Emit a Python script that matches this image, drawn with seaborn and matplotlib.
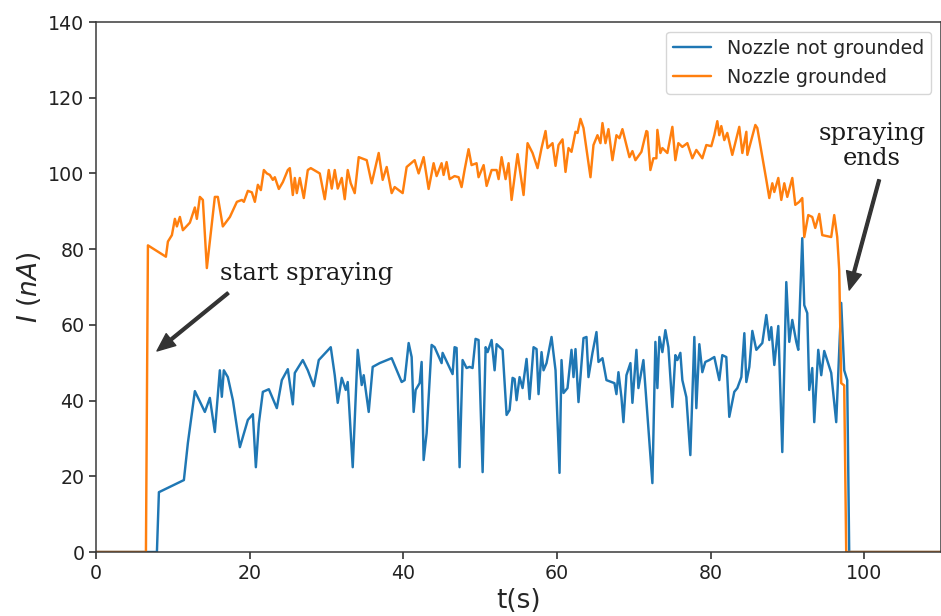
import numpy as np
import pandas as pd
import matplotlib
matplotlib.use('Agg')
import matplotlib.pyplot as plt
import seaborn as sns

# readings: time (s) and current (nA)
t_grounded = [0.0, 6.50, 6.76, 9.10, 9.36, 9.88, 10.27, 10.53, 10.92, 11.31, 12.22, 12.87, 13.13,
              13.52, 13.91, 14.43, 15.47, 15.86, 16.51, 17.43, 18.34, 18.99, 19.25, 19.77, 20.29,
              20.68, 21.07, 21.46, 21.85, 22.24, 22.63, 23.02, 23.28, 23.80, 24.32, 24.97, 25.23,
              25.62, 25.88, 26.14, 26.53, 27.05, 27.57, 27.96, 29.13, 29.78, 30.30, 30.69, 31.08,
              31.47, 31.99, 32.38, 32.77, 33.16, 33.68, 34.20, 35.24, 35.89, 36.80, 37.32, 37.84,
              38.49, 38.88, 39.92, 40.44, 41.48, 42.00, 42.65, 43.30, 43.95, 44.34, 44.99, 45.25,
              45.64, 46.03, 46.68, 47.20, 47.59, 47.98, 48.50, 48.89, 49.54, 49.80, 50.46, 50.85,
              51.50, 52.15, 52.41, 52.80, 53.32, 53.71, 54.10, 54.88, 55.66, 56.18, 56.83, 57.48,
              58.00, 58.52, 58.78, 59.43, 59.82, 60.21, 60.73, 61.12, 61.51, 61.90, 62.42, 62.68,
              63.07, 63.46, 64.37, 64.76, 65.28, 65.67, 65.93, 66.32, 66.71, 67.23, 67.75, 68.14,
              68.53, 69.05, 69.44, 69.83, 70.22, 71.00, 71.65, 71.78, 72.17, 72.56, 72.95, 73.08,
              73.47, 73.73, 74.38, 75.03, 75.42, 75.81, 76.33, 76.98, 77.63, 78.15, 78.93, 79.45,
              80.10, 80.49, 80.88, 81.14, 81.40, 81.79, 82.18, 82.83, 83.74, 84.14, 84.66, 84.79,
              85.83, 86.09, 87.26, 87.65, 88.04, 88.30, 88.82, 89.21, 89.60, 89.99, 90.64, 91.03,
              91.55, 91.94, 92.20, 92.72, 93.24, 93.63, 94.15, 94.54, 95.71, 96.10, 96.49, 96.75,
              97.01, 97.40, 97.66, 110.0]
i_grounded = [0, 0, 81, 78, 82, 83.7, 88, 86, 88.5, 85, 87, 91, 88,
              93.8, 93, 75, 93.8, 93.8, 86, 88.5, 92.5, 93, 92.5, 95.4, 95,
              92.5, 97, 95.6, 100.9, 100, 99.6, 98.3, 99, 95.9, 97.7, 100.9, 101.4,
              94.3, 98.8, 94.8, 98.8, 93.5, 100.9, 101.4, 100, 93.2, 100.9, 96, 100.9,
              96, 98.8, 93.2, 100.9, 97.4, 94.8, 104.3, 103.5, 97.4, 105.4, 98.3, 101.7,
              94.8, 96.4, 94.8, 101.7, 103.5, 100, 104.3, 95.9, 102.7, 99.3, 102.7, 99.6,
              103, 98.5, 99.3, 99, 96.4, 100.9, 106.4, 102.2, 102.7, 99, 102.2, 96.7,
              100.9, 100.9, 98.5, 104.3, 98.5, 102.7, 93, 105.1, 94.3, 108, 105.4, 101.4,
              106.7, 111.2, 106.7, 108, 102, 107.5, 109, 100.4, 106.7, 105.7, 111, 110.7,
              114.4, 112, 99, 107.5, 110.1, 108, 113.3, 108, 111.7, 103.5, 110.1, 109.3,
              111.7, 107.5, 104.3, 105.9, 103.5, 105.7, 111.2, 111, 100.9, 104, 104, 111.5,
              105.4, 106.7, 105.4, 112.3, 103.5, 108, 107, 108, 104, 106.2, 104, 107.5,
              107.2, 110.1, 113.8, 110.1, 112.5, 108.8, 110.7, 104.9, 112.3, 105.4, 111, 104.9,
              112.8, 112, 98.3, 93.5, 97.4, 95.1, 98.8, 93, 97.4, 93.8, 98.8, 91.7,
              92.5, 93.5, 83.2, 89, 88.5, 85.6, 89.3, 83.7, 83.2, 89, 83.2, 74.5,
              44.6, 44, 0, 0]

t_not_grounded = [0.0, 7.93, 8.19, 11.44, 11.96, 12.87, 14.17, 14.82, 15.47, 16.12, 16.38, 16.64,
                  17.16, 17.82, 18.73, 19.77, 20.42, 20.81, 21.20, 21.72, 22.50, 23.54, 24.19,
                  24.97, 25.62, 25.88, 26.92, 27.57, 28.35, 29.00, 30.56, 31.08, 31.47, 31.99,
                  32.51, 32.77, 33.42, 34.07, 34.59, 34.85, 35.50, 36.02, 36.93, 38.49, 39.79,
                  40.18, 40.70, 41.09, 41.35, 41.61, 42.13, 42.39, 42.65, 43.04, 43.69, 44.08,
                  44.99, 45.12, 46.42, 46.68, 46.94, 47.33, 47.72, 48.24, 48.63, 49.02, 49.41,
                  49.80, 50.33, 50.72, 50.98, 51.50, 51.89, 52.15, 52.93, 53.45, 53.84, 54.23,
                  54.49, 54.75, 55.14, 55.53, 56.05, 56.44, 56.96, 57.35, 57.61, 58.00, 58.26,
                  58.65, 59.30, 59.82, 60.34, 60.60, 60.86, 61.38, 61.90, 62.16, 62.42, 62.81,
                  63.46, 63.85, 64.11, 64.63, 65.15, 65.41, 65.93, 66.45, 67.10, 67.49, 67.75,
                  68.01, 68.40, 68.66, 69.05, 69.57, 69.83, 70.35, 70.61, 71.26, 72.43, 72.82,
                  73.08, 73.34, 73.73, 74.12, 74.51, 75.03, 75.42, 75.68, 76.07, 76.33, 76.85,
                  77.37, 77.89, 78.15, 78.54, 78.93, 79.32, 79.84, 80.49, 81.14, 81.53, 82.05,
                  82.44, 83.09, 83.49, 84.01, 84.40, 84.66, 85.05, 85.44, 85.96, 86.74, 87.26,
                  87.65, 87.91, 88.30, 88.82, 89.34, 89.86, 90.25, 90.64, 91.16, 91.42, 91.94,
                  92.20, 92.59, 92.85, 93.24, 93.50, 94.02, 94.41, 94.80, 95.71, 95.84, 96.36,
                  97.01, 97.40, 97.79, 98.05, 110.0]
i_not_grounded = [0, 0, 15.8, 19, 28.8, 42.5, 37, 40.7, 31.7, 48, 41, 48,
                  46.2, 40.1, 27.7, 34.9, 36.4, 22.4, 34, 42.3, 43, 38, 45.4,
                  48.3, 39, 47.3, 50.7, 48, 43.8, 50.7, 54.1, 46.7, 39.4, 46,
                  42.8, 44.9, 22.4, 53.4, 44.1, 46.7, 37, 48.9, 49.9, 51.2, 44.9,
                  45.4, 55.2, 51.5, 37, 42.8, 44.6, 50.2, 24.3, 31.4, 54.7, 54.1,
                  49.9, 52.6, 47, 54.1, 53.9, 22.4, 50.7, 48.6, 48.9, 48.6, 56.3,
                  56, 21.1, 54.1, 52.8, 56, 48, 54.9, 53.4, 36.2, 37.5, 46,
                  45.7, 40.1, 46.2, 43.3, 51, 40.4, 54.1, 53.6, 41.7, 52.8, 48,
                  49.9, 56.8, 48, 20.9, 50.7, 42, 43.3, 53.4, 46.2, 53.6, 39.6,
                  56.5, 56.8, 46.2, 52.6, 58.1, 50.2, 51.2, 45.4, 44.9, 44.6, 41.7,
                  47.5, 40.9, 34.3, 46.7, 49.9, 39.4, 53.4, 43.3, 50.7, 18.2, 55.5,
                  43.3, 56.8, 52.8, 58.6, 54.1, 38.3, 52, 50.7, 52.6, 45.4, 40.9,
                  25.6, 56.8, 38, 54.9, 47.5, 50.2, 50.7, 51.5, 45.4, 52, 51.5,
                  35.7, 42.3, 43.3, 46.2, 57.8, 44.9, 48.9, 58.4, 53.4, 55.2, 62.6,
                  56, 59.4, 49.4, 59.7, 26.4, 71.3, 55.5, 61.3, 55.5, 53.4, 82.9,
                  65.2, 63.1, 42.8, 48.6, 34.3, 53.4, 46.7, 53.1, 47.3, 44.6, 34.3,
                  65.8, 48, 45.4, 0, 0]

labels = ['Nozzle not grounded', 'Nozzle grounded']
colors = ['#1f77b4', '#ff7f0e']

df = pd.concat([
    pd.DataFrame({'t': t_not_grounded, 'I': i_not_grounded, 'case': labels[0]}),
    pd.DataFrame({'t': t_grounded, 'I': i_grounded, 'case': labels[1]}),
], ignore_index=True)

sns.set_style('ticks')

fig = plt.figure(figsize=(9.41, 6.16), dpi=100)
ax = fig.add_axes([96 / 941, 64 / 616, 845 / 941, 530 / 616])

sns.lineplot(data=df, x='t', y='I', hue='case', hue_order=labels, palette=colors,
             estimator=None, sort=False, linewidth=1.75, ax=ax)

ax.set_xlim(0, 110)
ax.set_ylim(0, 140)
ax.set_xticks(range(0, 101, 20))
ax.set_yticks(range(0, 141, 20))
ax.tick_params(labelsize=13.7, length=4.8, width=1.1, colors='#222222')
for s in ax.spines.values():
    s.set_linewidth(1.1)
    s.set_color('#3a3a3a')

ax.set_xlabel('t(s)', fontsize=19)
ax.set_ylabel(r'$I\ (nA)$', fontsize=19)

handles, labs = ax.get_legend_handles_labels()
ax.legend(handles, labs, loc='upper right', fontsize=13.7, frameon=True,
          framealpha=0.8, edgecolor='#cccccc', fancybox=True)

arrow = dict(facecolor='#333333', edgecolor='#333333', width=2.0, headwidth=11,
             headlength=13, shrink=0)
ax.text(16.1, 71.8, 'start spraying', family='DejaVu Serif', fontsize=17.5,
        ha='left', va='baseline', color='#1a1a1a')
ax.annotate('', xy=(7.94, 53.1), xytext=(17.2, 68.4), arrowprops=arrow)
ax.text(101.0, 107.2, 'spraying\nends', family='DejaVu Serif', fontsize=17.5,
        ha='center', va='center', color='#1a1a1a', linespacing=1.1)
ax.annotate('', xy=(98.05, 69.2), xytext=(101.95, 98.3), arrowprops=arrow)

fig.savefig('out.png', dpi=100)
